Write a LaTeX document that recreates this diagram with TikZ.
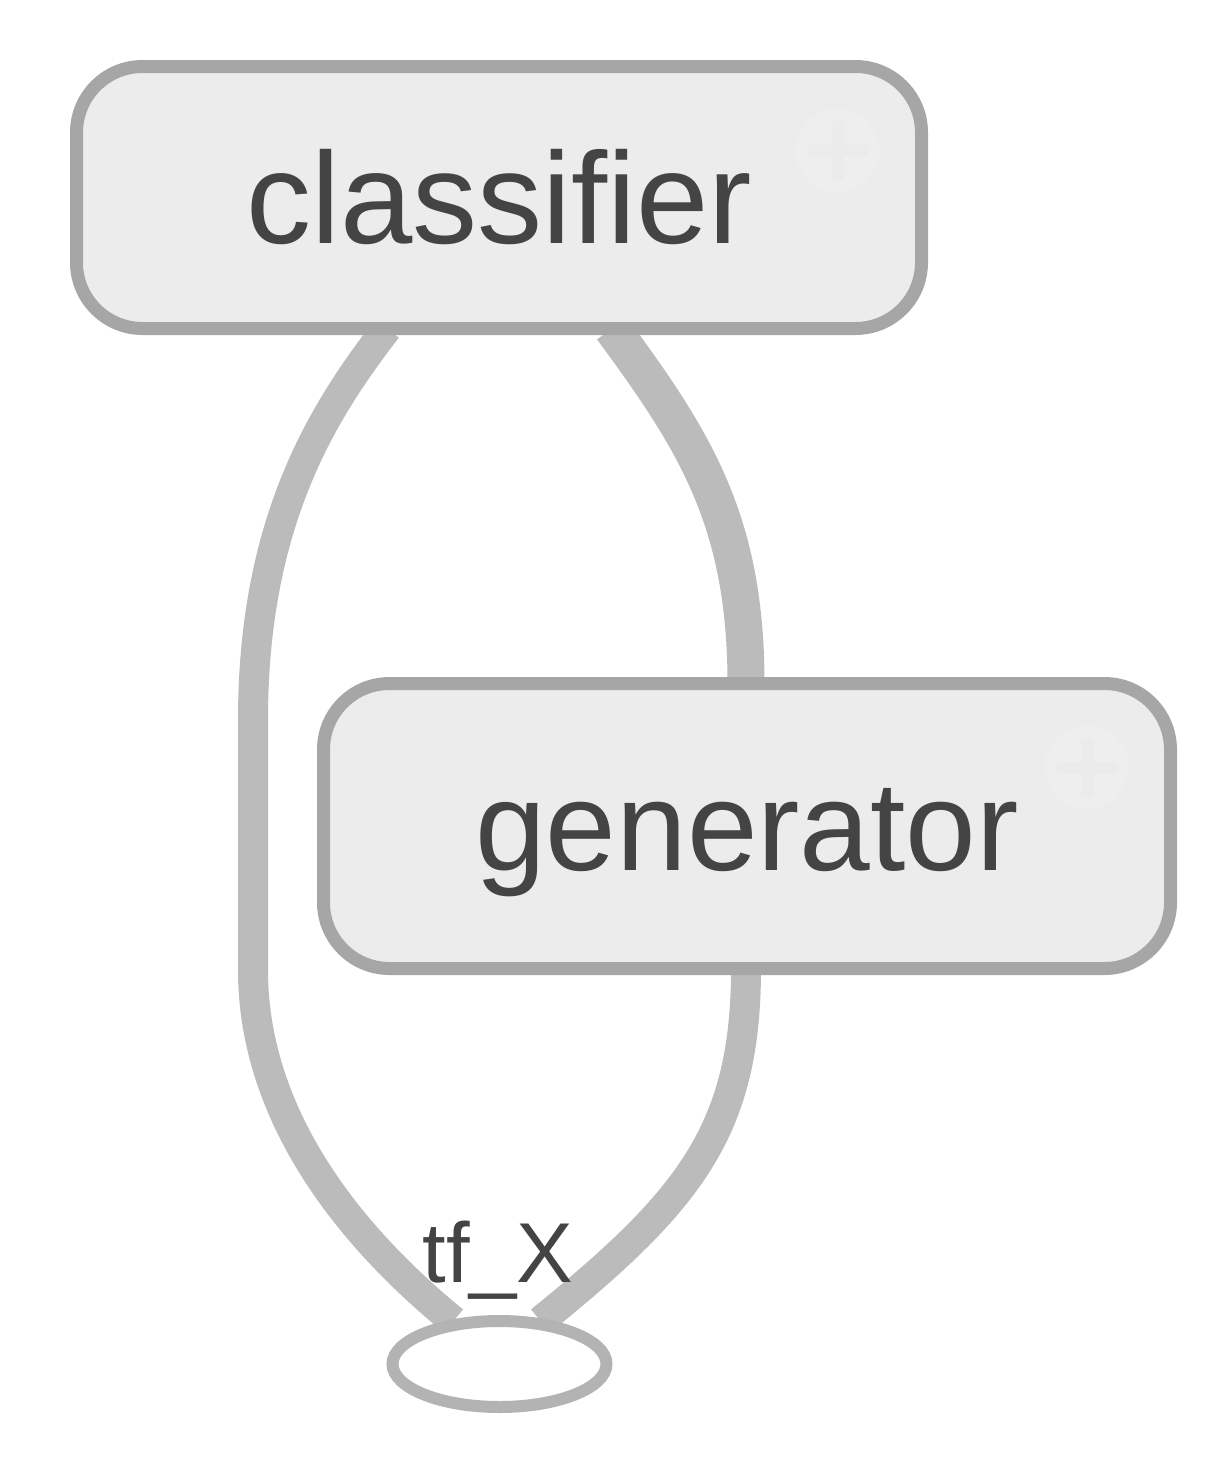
\documentclass[tikz,border=0pt]{standalone}
\usepackage{fontspec}
\setmainfont{Liberation Sans}
\usetikzlibrary{shapes.geometric,calc}
\pgfdeclarelayer{bg}
\pgfsetlayers{bg,main}
\definecolor{boxfill}{HTML}{ECECEC}
\definecolor{boxline}{HTML}{A6A6A6}
\definecolor{edgecol}{HTML}{BBBBBB}
\definecolor{ovalline}{HTML}{B3B3B3}
\definecolor{txt}{HTML}{444444}
\definecolor{iconfill}{HTML}{EEEEEE}
\definecolor{iconplus}{HTML}{EBEBEB}
\begin{document}
\begin{tikzpicture}[x=1pt,y=-1pt,
  group/.style={draw=boxline, fill=boxfill, line width=13pt, rounded corners=66pt,
    inner sep=0pt, outer sep=0pt, text=txt},
  edge/.style={draw=edgecol, line width=30pt},
  wideedge/.style={draw=edgecol, line width=37pt},
  oval/.style={draw=ovalline, fill=white, ellipse, line width=12pt,
    minimum width=214pt, minimum height=86pt, inner sep=0pt, outer sep=0pt},
  lbl/.style={anchor=base, text=txt, inner sep=0pt},
  iconring/.style={fill=iconfill},
  iconcross/.style={draw=iconplus, line width=12pt}]
\useasboundingbox (0,0) rectangle (1230,1468);

\node[group, minimum width=845pt, text height=176.5pt, text depth=85.5pt,
  font=\fontsize{130}{156}\selectfont] (classifier) at (499,197.5) {classifier};
\node[group, minimum width=847pt, text height=186.5pt, text depth=98.5pt,
  font=\fontsize{127}{152}\selectfont] (generator) at (747,826) {generator};
\node[oval] (tfX) at (499.5,1364) {};
\node[lbl, font=\fontsize{85}{100}\selectfont] (tfXlabel) at (498,1282) {tf\_X};

% expand icons
\coordinate (ci) at ($(classifier.north east)+(-84,84)$);
\fill[iconring] (ci) circle[radius=42pt];
\draw[iconcross] ($(ci)+(-30,0)$) -- ($(ci)+(30,0)$);
\draw[iconcross] ($(ci)+(0,-30)$) -- ($(ci)+(0,30)$);
\coordinate (gi) at ($(generator.north east)+(-84,84)$);
\fill[iconring] (gi) circle[radius=42pt];
\draw[iconcross] ($(gi)+(-30,0)$) -- ($(gi)+(30,0)$);
\draw[iconcross] ($(gi)+(0,-30)$) -- ($(gi)+(0,30)$);

\begin{pgfonlayer}{bg}
\draw[edge] ([xshift=-112pt]classifier.south)
  .. controls (324,410) and (253,520) .. (253,720)
  -- (253,970)
  .. controls (253,1100) and (330,1220) .. ([xshift=-46pt]tfX.north);
\draw[wideedge] ([xshift=113pt]classifier.south)
  .. controls (694,440) and (746,520) .. ([xshift=-1pt]generator.north);
\draw[edge] ([xshift=-1pt]generator.south)
  .. controls (746,1130) and (690,1200) .. ([xshift=41pt]tfX.north);
\end{pgfonlayer}
\end{tikzpicture}
\end{document}
